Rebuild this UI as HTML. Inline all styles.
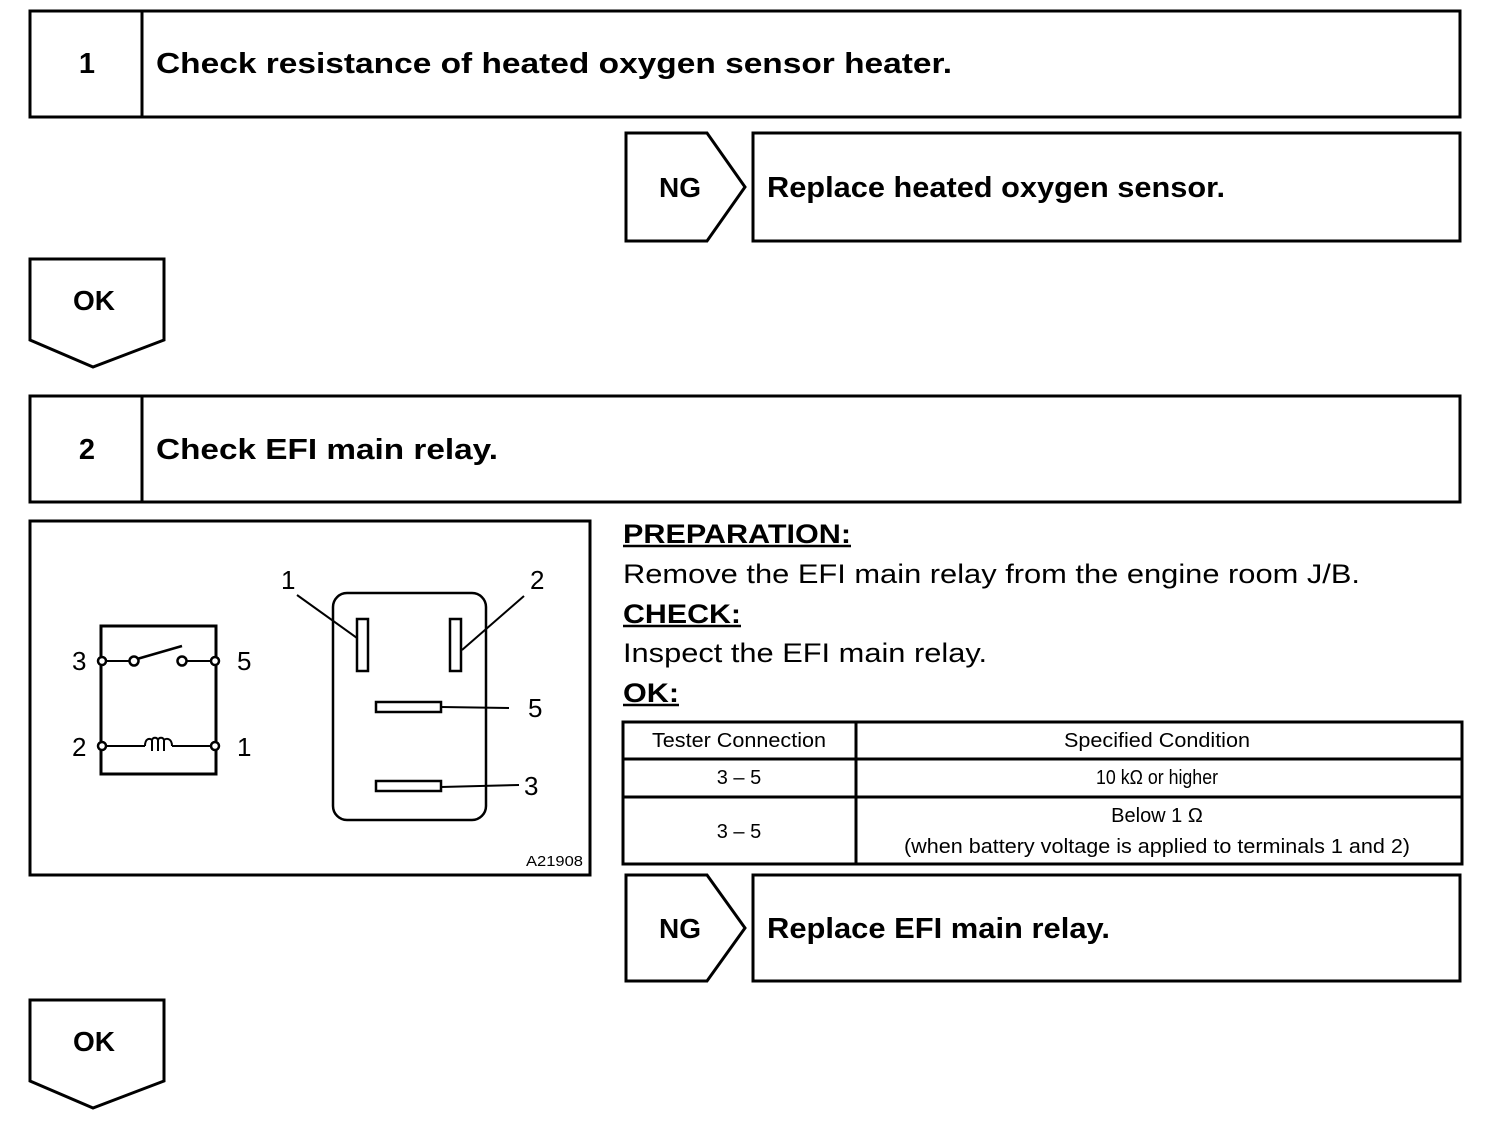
<!DOCTYPE html>
<html><head><meta charset="utf-8"><style>
html,body{margin:0;padding:0;background:#fff;}
svg{display:block;}
text{font-family:"Liberation Sans",Arial,sans-serif;fill:#000;}
.b{font-weight:bold;}
</style></head><body>
<svg width="1504" height="1124" viewBox="0 0 1504 1124" xmlns="http://www.w3.org/2000/svg">
<g fill="none" stroke="#000" stroke-width="3">
<rect x="30" y="11" width="1430" height="106"/>
<line x1="142" y1="11" x2="142" y2="117"/>
<polygon points="626,133 707,133 745,187 707,241 626,241"/>
<rect x="753" y="133" width="707" height="108"/>
<polygon points="30,259 164,259 164,340 93,367 30,340"/>
<rect x="30" y="396" width="1430" height="106"/>
<line x1="142" y1="396" x2="142" y2="502"/>
<rect x="30" y="521" width="560" height="354"/>
<rect x="623" y="722" width="839" height="142"/>
<line x1="856" y1="722" x2="856" y2="864"/>
<line x1="623" y1="759" x2="1462" y2="759"/>
<line x1="623" y1="797" x2="1462" y2="797"/>
<polygon points="626,875 707,875 745,928 707,981 626,981"/>
<rect x="753" y="875" width="707" height="106"/>
<polygon points="30,1000 164,1000 164,1081 93,1108 30,1081"/>
</g>
<g fill="none" stroke="#000">
<rect x="101" y="626" width="115" height="148" stroke-width="3"/>
<line x1="101" y1="661" x2="134" y2="661" stroke-width="2"/>
<line x1="182" y1="661" x2="216" y2="661" stroke-width="2"/>
<line x1="137" y1="659" x2="182" y2="646" stroke-width="2.5"/>
<line x1="101" y1="746" x2="145" y2="746" stroke-width="2"/>
<line x1="172" y1="746" x2="216" y2="746" stroke-width="2"/>
<path d="M145,746 C145,738 150,738 152,740 L152,751 M152,740 C153,737 157,737 158,740 L158,751 M158,740 C159,737 163,737 164,740 L164,751 M164,740 C166,738 172,738 172,746" stroke-width="2"/>
</g>
<g fill="#fff" stroke="#000" stroke-width="2.5">
<circle cx="102" cy="661" r="4"/><circle cx="134" cy="661" r="4.5"/><circle cx="182" cy="661" r="4.5"/><circle cx="215" cy="661" r="4"/>
<circle cx="102" cy="746" r="4"/><circle cx="215" cy="746" r="4"/>
</g>
<g fill="none" stroke="#000">
<rect x="333" y="593" width="153" height="227" rx="14" stroke-width="2.5"/>
<rect x="357" y="619" width="11" height="52" stroke-width="2.5"/>
<rect x="450" y="619" width="11" height="52" stroke-width="2.5"/>
<rect x="376" y="702" width="65" height="10" stroke-width="2.5"/>
<rect x="376" y="781" width="65" height="10" stroke-width="2.5"/>
<line x1="297" y1="595" x2="357" y2="638" stroke-width="2"/>
<line x1="524" y1="596" x2="462" y2="650" stroke-width="2"/>
<line x1="441" y1="707" x2="509" y2="708" stroke-width="2"/>
<line x1="441" y1="787" x2="519" y2="785" stroke-width="2"/>
</g>
<g font-size="26">
<text x="72" y="670">3</text><text x="237" y="670">5</text>
<text x="72" y="756">2</text><text x="237" y="756">1</text>
<text x="281" y="589">1</text><text x="530" y="589">2</text>
<text x="528" y="717">5</text><text x="524" y="795">3</text>
</g>
<text x="526" y="866" font-size="15" textLength="57" lengthAdjust="spacingAndGlyphs">A21908</text>
<g class="b" font-size="29">
<text x="87" y="73" text-anchor="middle" class="b">1</text>
<text x="156" y="73" class="b" textLength="796" lengthAdjust="spacingAndGlyphs">Check resistance of heated oxygen sensor heater.</text>
<text x="87" y="459" text-anchor="middle" class="b">2</text>
<text x="156" y="459" class="b" textLength="342" lengthAdjust="spacingAndGlyphs">Check EFI main relay.</text>
<text x="767" y="197" class="b" textLength="458" lengthAdjust="spacingAndGlyphs">Replace heated oxygen sensor.</text>
<text x="767" y="938" class="b" textLength="343" lengthAdjust="spacingAndGlyphs">Replace EFI main relay.</text>
</g>
<g class="b" font-size="28">
<text x="680" y="197" text-anchor="middle" class="b">NG</text>
<text x="680" y="938" text-anchor="middle" class="b">NG</text>
<text x="94" y="310" text-anchor="middle" class="b">OK</text>
<text x="94" y="1051" text-anchor="middle" class="b">OK</text>
</g>
<g font-size="27">
<text x="623" y="543" class="b" textLength="228" lengthAdjust="spacingAndGlyphs">PREPARATION:</text>
<text x="623" y="583" textLength="737" lengthAdjust="spacingAndGlyphs">Remove the EFI main relay from the engine room J/B.</text>
<text x="623" y="623" class="b" textLength="118" lengthAdjust="spacingAndGlyphs">CHECK:</text>
<text x="623" y="662" textLength="364" lengthAdjust="spacingAndGlyphs">Inspect the EFI main relay.</text>
<text x="623" y="702" class="b" textLength="56" lengthAdjust="spacingAndGlyphs">OK:</text>
</g>
<line x1="623" y1="546" x2="851" y2="546" stroke="#000" stroke-width="2.5"/>
<line x1="623" y1="626" x2="741" y2="626" stroke="#000" stroke-width="2.5"/>
<line x1="623" y1="705" x2="679" y2="705" stroke="#000" stroke-width="2.5"/>
<g font-size="20" text-anchor="middle">
<text x="739" y="747" textLength="174" lengthAdjust="spacingAndGlyphs">Tester Connection</text>
<text x="1157" y="747" textLength="186" lengthAdjust="spacingAndGlyphs">Specified Condition</text>
<text x="739" y="784">3 – 5</text>
<text x="1157" y="784" textLength="122" lengthAdjust="spacingAndGlyphs">10 kΩ or higher</text>
<text x="739" y="838">3 – 5</text>
<text x="1157" y="822">Below 1 Ω</text>
<text x="1157" y="853" textLength="506" lengthAdjust="spacingAndGlyphs">(when battery voltage is applied to terminals 1 and 2)</text>
</g>
</svg>
</body></html>
